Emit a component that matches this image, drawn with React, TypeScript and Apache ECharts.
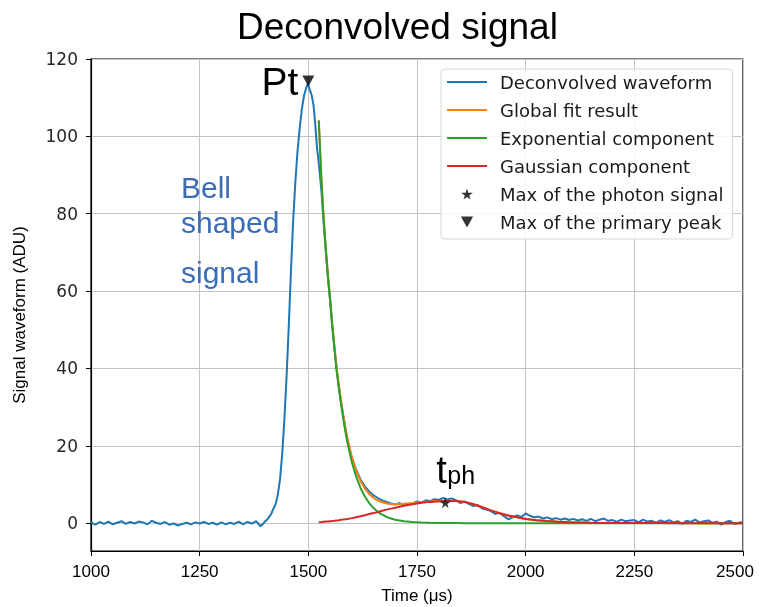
import React, { useEffect, useRef } from 'react';
import * as echarts from 'echarts';

const chartTitle = 'Deconvolved signal';
const xAxisName = 'Time (μs)';
const yAxisName = 'Signal waveform (ADU)';
const yTicks = [0, 20, 40, 60, 80, 100, 120];

const waveTime = [
  1000, 1010, 1020, 1030, 1040, 1050, 1060, 1070, 1080, 1090,
  1100, 1110, 1120, 1130, 1140, 1150, 1160, 1170, 1180, 1190,
  1200, 1210, 1220, 1230, 1240, 1250, 1260, 1270, 1280, 1290,
  1300, 1310, 1320, 1330, 1340, 1350, 1360, 1370, 1380, 1390,
  1395, 1400, 1405, 1410, 1415, 1420, 1425, 1430, 1435, 1440,
  1445, 1450, 1455, 1460, 1465, 1470, 1475, 1480, 1485, 1490,
  1495, 1499, 1502, 1505, 1508, 1512, 1516, 1520, 1525, 1530,
  1535, 1540, 1545, 1550, 1555, 1560, 1565, 1570, 1575, 1580,
  1585, 1590, 1595, 1600,
  1610, 1620, 1630, 1640, 1650, 1660, 1670, 1680, 1690, 1700,
  1710, 1720, 1730, 1740, 1750, 1760, 1770, 1780, 1790, 1800,
  1810, 1820, 1830, 1840, 1850, 1860, 1870, 1880, 1890, 1900,
  1910, 1920, 1930, 1940, 1950, 1960, 1970, 1980, 1990, 2000,
  2010, 2020, 2030, 2040, 2050, 2060, 2070, 2080, 2090, 2100,
  2110, 2120, 2130, 2140, 2150, 2160, 2170, 2180, 2190, 2200,
  2210, 2220, 2230, 2240, 2250, 2260, 2270, 2280, 2290, 2300,
  2310, 2320, 2330, 2340, 2350, 2360, 2370, 2380, 2390, 2400,
  2410, 2420, 2430, 2440, 2450, 2460, 2470, 2480, 2490, 2500,
];
const waveValue = [
  0.2, -0.4, 0.3, -0.2, 0.4, -0.3, 0.1, 0.5, -0.2, 0.3,
  -0.1, 0.4, 0.2, -0.3, 0.6, 0.1, -0.2, 0.3, -0.4, -0.1,
  -0.6, -0.2, 0.1, -0.3, 0.2, -0.1, 0.3, -0.2, 0.1, -0.4,
  0.2, -0.3, 0.1, -0.2, 0.4, -0.3, 0.3, -0.1, 0.5, -0.8,
  -0.3, 0.4, 0.9, 1.6, 2.5, 3.8, 5.0, 7.5, 11.5, 18,
  27, 38, 51, 65, 78, 88, 96, 102, 107, 110.5,
  112.5, 113.7, 112.5, 111.5, 110.5, 108, 103, 97, 92, 86,
  78, 70.5, 63.5, 57.5, 51, 45.5, 40, 35.5, 31.5, 28,
  24.5, 21.5, 19, 17,
  13.8, 11.3, 9.5, 8.2, 7.2, 6.5, 5.9, 5.5, 5.1, 4.8,
  5.2, 4.6, 4.9, 5.1, 5.6, 5.3, 5.9, 5.7, 6.2, 6.0,
  6.5, 6.1, 6.4, 5.9, 5.2, 5.6, 4.9, 4.4, 4.7, 3.8,
  3.5, 3.1, 2.4, 2.6, 1.8, 1.0, 1.5, 2.0, 1.6, 2.5,
  1.9, 1.5, 1.7, 1.2, 1.5, 1.0, 1.3, 0.9, 1.2, 0.8,
  1.1, 0.7, 1.0, 0.6, 1.1, 0.5, 0.9, 1.2, 0.6, 0.8,
  0.3, 0.9, 0.5, 0.7, 0.8, 0.2, 0.9, 0.4, 0.6, 0.1,
  0.7, 0.3, 0.8, 0.2, 0.5, -0.2, 0.6, 0.3, 0.9, 0.2,
  0.5, 0.7, 0.1, 0.4, -0.4, 0.3, 0.6, -0.2, 0.1, 0.3,
];

const fitTime = [
  1524, 1530, 1535, 1540, 1545, 1550, 1555, 1560, 1565, 1570, 1575, 1580, 1585, 1590,
  1600, 1610, 1620, 1630, 1640, 1650, 1660, 1670, 1680, 1690, 1700,
  1720, 1740, 1760, 1780, 1800, 1820, 1840, 1860, 1880, 1900, 1920, 1940, 1960, 1980, 2000,
  2025, 2050, 2075, 2100, 2150, 2200, 2300, 2400, 2500,
];
const globalFit = [
  104.25, 89.3, 79.35, 71.4, 64.45, 58.5, 51.55, 45.62, 40.2, 35.77, 31.85, 28.13, 24.82, 21.9,
  17.1, 13.55, 10.9, 8.95, 7.55, 6.5, 5.8, 5.4, 5.1, 4.95, 4.9,
  5.0, 5.18, 5.4, 5.58, 5.69, 5.77, 5.73, 5.45, 4.9, 4.1, 3.3, 2.6, 2.0, 1.5, 1.1,
  0.78, 0.54, 0.37, 0.25, 0.1, 0.04, 0.01, 0, 0,
];
const expComponent = [
  104, 89, 79, 71, 64, 58, 51, 45, 39.5, 35, 31, 27.2, 23.8, 20.8,
  15.8, 12, 9.1, 6.9, 5.2, 3.9, 2.9, 2.2, 1.6, 1.2, 0.9,
  0.5, 0.28, 0.15, 0.08, 0.04, 0.02, 0.01, 0, 0, 0, 0, 0, 0, 0, 0,
  0, 0, 0, 0, 0, 0, 0, 0, 0,
];
const gaussComponent = [
  0.25, 0.3, 0.35, 0.4, 0.45, 0.5, 0.55, 0.62, 0.7, 0.77, 0.85, 0.93, 1.02, 1.1,
  1.3, 1.55, 1.8, 2.05, 2.35, 2.6, 2.9, 3.2, 3.5, 3.75, 4.0,
  4.5, 4.9, 5.25, 5.5, 5.65, 5.75, 5.72, 5.45, 4.9, 4.1, 3.3, 2.6, 2.0, 1.5, 1.1,
  0.78, 0.54, 0.37, 0.25, 0.1, 0.04, 0.01, 0, 0,
];
const photonMax = [1815, 5.3];
const primaryMax = [1500, 114.3];

const STAR = 'path://M50,0 L61,35 L98,35 L68,57 L79,91 L50,70 L21,91 L32,57 L2,35 L39,35 Z';
const TRI = 'path://M0,0 L10,0 L5,9 Z';
const LINE_ICON = 'path://M0,0 L40,0 L40,2 L0,2 Z';

const ARIAL = 'Liberation Sans, Arial, sans-serif';
const DEJAVU = 'DejaVu Sans, sans-serif';

const zip = (xs: number[], ys: number[]) => xs.map((x, i) => [x, ys[i]]);

export default function App() {
  const ref = useRef<HTMLDivElement>(null);
  useEffect(() => {
    if (!ref.current) return;
    const chart = echarts.init(ref.current, null, { renderer: 'svg' });
    const lineSeries = (name: string, data: number[][], color: string, z: number) => ({
      name,
      type: 'line',
      data,
      symbol: 'none',
      showSymbol: false,
      z,
      color,
      itemStyle: { color },
      lineStyle: { color, width: 2 },
    });
    chart.setOption({
      animation: false,
      title: {
        text: chartTitle,
        left: 237,
        top: 8,
        padding: 0,
        textStyle: { fontFamily: ARIAL, fontSize: 37, fontWeight: 'normal', color: '#000' },
      },
      grid: {
        left: 91, right: 16, top: 59, bottom: 56,
        show: true, borderColor: '#000', borderWidth: 1.2, backgroundColor: 'transparent',
        outerBoundsMode: 'none',
      },
      legend: {
        orient: 'vertical',
        left: 441,
        top: 69,
        itemWidth: 40,
        itemHeight: 11,
        itemGap: 10,
        padding: [4, 9, 8, 6],
        backgroundColor: 'rgba(255,255,255,0.85)',
        borderColor: '#d6d6d6',
        borderWidth: 1,
        borderRadius: 4,
        textStyle: { fontFamily: DEJAVU, fontSize: 18, color: '#1a1a1a', padding: [0, 0, 0, 8] },
        data: [
          { name: 'Deconvolved waveform', icon: LINE_ICON },
          { name: 'Global fit result', icon: LINE_ICON },
          { name: 'Exponential component', icon: LINE_ICON },
          { name: 'Gaussian component', icon: LINE_ICON },
          { name: 'Max of the photon signal', icon: STAR },
          { name: 'Max of the primary peak', icon: TRI },
        ],
      },
      xAxis: {
        type: 'value',
        min: 1000,
        max: 2500,
        interval: 250,
        name: xAxisName,
        nameLocation: 'middle',
        nameGap: 36,
        nameTextStyle: { fontFamily: ARIAL, fontSize: 17, color: '#000' },
        axisLine: { show: true, onZero: false, lineStyle: { color: '#000', width: 1.2 } },
        axisTick: { show: true, inside: false, length: 5, lineStyle: { color: '#000' } },
        axisLabel: {
          margin: 12, fontFamily: ARIAL, fontSize: 17, color: '#000',
          formatter: (v: number) => (v === 2500 ? '{m|' + String(v) + '}' : String(v)),
          rich: { m: { fontFamily: ARIAL, fontSize: 17, color: '#000', padding: [0, 16, 0, 0] } },
        },
        splitLine: { show: true, lineStyle: { color: '#c4c4c4', width: 1 } },
      },
      yAxis: {
        type: 'value',
        min: -7.2,
        max: 120,
        name: yAxisName,
        nameLocation: 'middle',
        nameGap: 63,
        nameTextStyle: { fontFamily: ARIAL, fontSize: 17, color: '#000', padding: [0, 20, 0, 0] },
        axisLine: { show: true, onZero: false, lineStyle: { color: '#000', width: 1.2 } },
        axisTick: { show: true, inside: false, length: 5, lineStyle: { color: '#000' }, customValues: yTicks },
        axisLabel: { margin: 13, fontFamily: DEJAVU, fontSize: 17, color: '#262626', customValues: yTicks },
        splitLine: { show: true, lineStyle: { color: '#c4c4c4', width: 1 } },
      },
      series: [
        lineSeries('Deconvolved waveform', zip(waveTime, waveValue), '#1f77b4', 2),
        lineSeries('Global fit result', zip(fitTime, globalFit), '#ff7f0e', 3),
        lineSeries('Exponential component', zip(fitTime, expComponent), '#2ca02c', 4),
        lineSeries('Gaussian component', zip(fitTime, gaussComponent), '#d62728', 5),
        {
          name: 'Max of the photon signal',
          type: 'scatter',
          data: [photonMax],
          symbol: STAR,
          symbolSize: 11,
          itemStyle: { color: '#000' },
          z: 6,
        },
        {
          name: 'Max of the primary peak',
          type: 'scatter',
          data: [primaryMax],
          symbol: TRI,
          symbolSize: [12, 11],
          itemStyle: { color: '#000' },
          z: 6,
        },
      ],
    });
    const star = chart.convertToPixel({ gridIndex: 0 }, photonMax) as number[];
    const tri = chart.convertToPixel({ gridIndex: 0 }, primaryMax) as number[];
    chart.setOption({
      graphic: [
        { type: 'text', left: 181, top: 172, style: { text: 'Bell', fontFamily: ARIAL, fontSize: 30, fill: '#3a6db5' } },
        { type: 'text', left: 181, top: 207, style: { text: 'shaped', fontFamily: ARIAL, fontSize: 30, fill: '#3a6db5' } },
        { type: 'text', left: 181, top: 257, style: { text: 'signal', fontFamily: ARIAL, fontSize: 30, fill: '#3a6db5' } },
        {
          type: 'text', x: tri[0] - 10, y: tri[1], z: 10,
          style: { text: 'Pt', fontFamily: ARIAL, fontSize: 39, fill: '#000', align: 'right', verticalAlign: 'middle' },
        },
        {
          type: 'text', x: star[0] - 9, y: star[1] - 33, z: 10,
          style: { text: 't', fontFamily: ARIAL, fontSize: 38, fill: '#000', align: 'left', verticalAlign: 'middle' },
        },
        {
          type: 'text', x: star[0] + 2, y: star[1] - 28, z: 10,
          style: { text: 'ph', fontFamily: ARIAL, fontSize: 25, fill: '#000', align: 'left', verticalAlign: 'middle' },
        },
      ],
    });
    return () => chart.dispose();
  }, []);
  return <div ref={ref} style={{ position: 'fixed', left: 0, top: 0, width: 759, height: 607 }} />;
}
